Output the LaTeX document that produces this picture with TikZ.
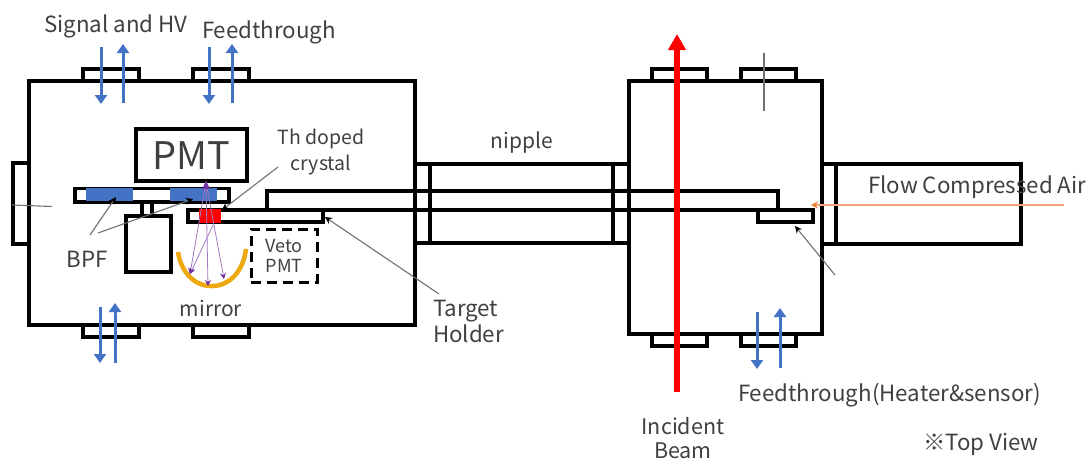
\documentclass[tikz,border=0pt]{standalone}
\usepackage{fontspec}
\setmainfont{Noto Sans CJK JP}
\usetikzlibrary{arrows.meta}
\definecolor{bluefill}{HTML}{4472C4}
\definecolor{txtgray}{HTML}{404040}
\definecolor{mirrorc}{HTML}{EDA90F}
\definecolor{raypurple}{HTML}{7030A0}
\definecolor{airorange}{HTML}{F4A878}
\definecolor{airhead}{HTML}{ED7D31}
\definecolor{leadergray}{HTML}{707070}
\tikzset{
  partbox/.style={draw=black,line width=3.2pt,rectangle,inner sep=0pt,outer sep=0pt},
  solidfill/.style={rectangle,inner sep=0pt,outer sep=0pt,draw=none},
  txt/.style={text=txtgray,font=\fontsize{22.3}{26}\selectfont,inner sep=0pt,outer sep=0pt,align=center},
  wire/.style={bluefill,line width=3pt,-{Triangle[length=9pt,width=12pt]}},
  leader/.style={leadergray,line width=1.1pt,-{Stealth[length=7pt,width=7pt,black]}},
  plainleader/.style={leadergray,line width=1.1pt},
  ray/.style={raypurple!65,line width=0.8pt,-{Stealth[length=6pt,width=6pt,raypurple]}},
}
\newcommand{\bx}[6][partbox]{\node[#1,minimum width={(#5-#3)*1pt},minimum height={(#6-#4)*1pt}] (#2) at ({(#3+#5)/2},{(#4+#6)/2}) {};}
\begin{document}
\begin{tikzpicture}[x=1pt,y=-1pt]
\useasboundingbox (0,0) rectangle (1087,463);
% left chamber
\bx{chamberL}{29}{81}{415}{325}
\bx{ftA}{83}{69}{139}{81}
\bx{ftB}{193}{69}{249}{81}
\bx{ftC}{83}{325}{139}{337}
\bx{ftD}{193}{325}{249}{337}
\bx{portL}{13}{163}{29}{244}
% inside
\bx{plate}{75}{188.5}{229}{202}
\bx[solidfill,fill=bluefill]{filterA}{86}{188}{133}{201}
\bx[solidfill,fill=bluefill]{filterB}{170}{188}{217}{201}
\bx{post}{142}{202}{152}{216}
\bx{block}{126}{216}{171}{272}
\bx{pmt}{136}{129}{247}{181}
\node[text=txtgray,font=\fontsize{38}{40}\selectfont,inner sep=0pt] (pmtlabel) at (191.5,156) {PMT};
\bx{holder}{188}{210}{323}{222}
\bx[solidfill,fill=red]{crystal}{199}{209}{221}{223}
\bx[partbox,line width=3pt,dash pattern=on 10pt off 6pt]{veto}{251}{229}{317}{282}
\node[txt,font=\fontsize{18}{20}\selectfont] (vetolabel) at (284,256) {Veto\\PMT};
% mirror
\coordinate (mA) at (178,252);
\coordinate (mB) at (246,249);
\draw[mirrorc,line width=4.5pt] (mA) .. controls (185,298) and (240,298) .. (mB);
% rays
\coordinate (rayTop) at (206,182);
\coordinate (rayMid) at (213,225);
\coordinate (rayL) at (190,274);
\coordinate (rayC) at (208,286);
\coordinate (rayR) at (224,279);
\draw[ray] (rayTop) -- (rayL);
\draw[ray] (rayTop) -- (rayC);
\draw[ray] (rayTop) -- (rayR);
\draw[ray] (rayMid) -- (rayL);
\fill[raypurple] (206,181) -- (202,189) -- (210,189) -- cycle;
% nipple and pipes
\bx{nipple}{430}{164}{613}{243}
\bx{nipFlangeL}{415}{164}{430}{243}
\bx{nipFlangeR}{613}{164}{629}{243}
\bx{chamberR}{629}{81}{822}{334}
\bx{ftE}{652}{69}{707}{81}
\bx{ftF}{741}{69}{796}{81}
\bx{ftG}{652}{334}{707}{346}
\bx{ftH}{741}{334}{796}{346}
\bx{pipeFlange}{822}{164}{836}{244}
\bx{pipe}{836}{164}{1021}{244}
% rod
\bx{heater}{758}{210}{813}{222}
\coordinate (rodA) at (267,210);
\coordinate (rodB) at (267,191);
\coordinate (rodC) at (778,191);
\coordinate (rodD) at (778,210);
\coordinate (rodE) at (813,210);
\draw[black,line width=3.6pt] (rodE) -- (rodA) -- (rodB) -- (rodC) -- (rodD);
% blue wires
\foreach \n/\xa/\ya/\xb/\yb in {a/101/47/101/104,b/123/103/123/44,c/209/47/209/104,d/232/103/232/44,e/100/307/100/363,f/115/363/115/303,g/757/312/757/369,h/780/368/780/308}{
  \coordinate (w\n0) at (\xa,\ya);
  \coordinate (w\n1) at (\xb,\yb);
  \draw[wire] (w\n0) -- (w\n1);
}
% beam
\coordinate (beamS) at (677,392);
\coordinate (beamE) at (677,34);
\draw[red,line width=5.5pt,-{Triangle[length=16pt,width=17pt]}] (beamS) -- (beamE);
% misc lines
\coordinate (tickA) at (764,53);
\coordinate (tickB) at (764,111);
\draw[plainleader] (tickA) -- (tickB);
\coordinate (leftA) at (12,205);
\coordinate (leftB) at (52,206.5);
\draw[plainleader] (leftA) -- (leftB);
\coordinate (airS) at (1064,205);
\coordinate (airE) at (811,205);
\draw[airorange,line width=1.2pt,-{Stealth[length=7pt,width=7pt,airhead]}] (airS) -- (airE);
% labels
\node[txt,anchor=west] (sig) at (44,26) {Signal and HV};
\node[txt,anchor=west] (ft) at (202,32) {Feedthrough};
\node[txt,font=\fontsize{19.5}{26}\selectfont] (th) at (321,152) {Th doped\\crystal};
\node[txt] (bpf) at (87,259) {BPF};
\node[txt,font=\fontsize{21}{26}\selectfont] (mirror) at (211,308) {mirror};
\node[txt,font=\fontsize{21}{26}\selectfont] (nip) at (522,143) {nipple};
\node[txt,align=left,anchor=north west,font=\fontsize{22.3}{26}\selectfont] (target) at (433,300) {Target\\Holder};
\node[txt,font=\fontsize{21.5}{23.5}\selectfont] (beam) at (683,438) {Incident\\Beam};
\node[txt,anchor=west] (ftr) at (738,395) {Feedthrough(Heater\&sensor)};
\node[txt,anchor=west] (top) at (923,444) {※Top View};
\node[txt,anchor=west] (air) at (868,187) {Flow Compressed Air};
% leaders
\coordinate (bpfA) at (90,235);
\coordinate (bpfB) at (98,233);
\coordinate (thA) at (278,167);
\coordinate (tgA) at (439,294);
\coordinate (hA) at (835,275);
\coordinate (toF1) at (116,197);
\coordinate (toF2) at (193,199);
\coordinate (toC) at (222,210);
\coordinate (toT) at (325,217);
\coordinate (toH) at (795,226);
\draw[leader] (bpfA) -- (toF1);
\draw[leader] (bpfB) -- (toF2);
\draw[leader] (thA) -- (toC);
\draw[leader] (tgA) -- (toT);
\draw[leader] (hA) -- (toH);
\end{tikzpicture}
\end{document}
